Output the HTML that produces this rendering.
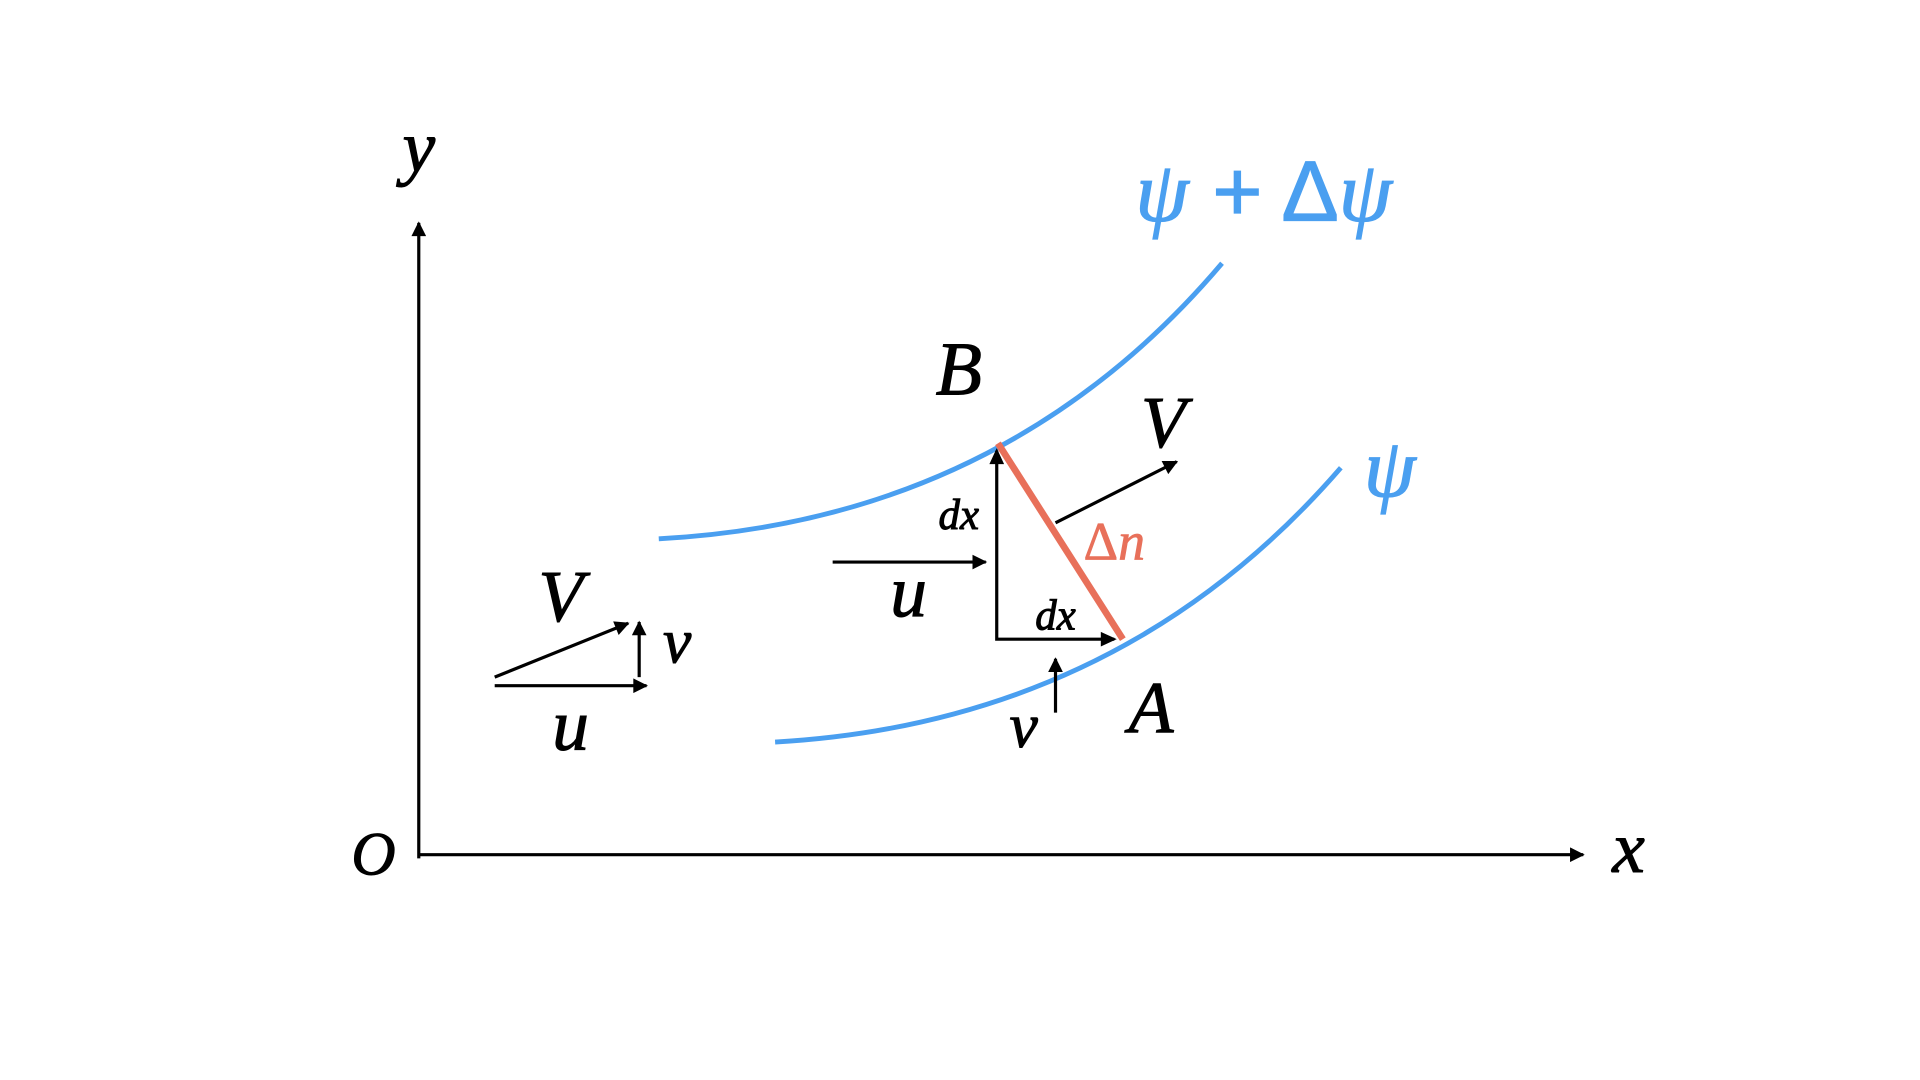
<!DOCTYPE html>
<html><head><meta charset="utf-8"><style>html,body{margin:0;padding:0;background:#fff;width:1920px;height:1080px;overflow:hidden}</style></head>
<body>
<svg width="1920" height="1080" viewBox="0 0 1568 882" xmlns="http://www.w3.org/2000/svg">
<defs>
<marker id="ah2" viewBox="0 0 10 10" refX="9" refY="5" markerWidth="14" markerHeight="12" orient="auto" markerUnits="userSpaceOnUse"><path d="M0,0 L10,5 L0,10 z" fill="#000"/></marker>
</defs>
<g stroke="#000" stroke-width="2.6" fill="none">
<line x1="342" y1="701" x2="342" y2="182" marker-end="url(#ah2)"/>
<line x1="341" y1="698" x2="1293" y2="698" marker-end="url(#ah2)"/>
</g>
<g stroke="#4a9ff0" stroke-width="4" fill="none">
<path d="M538,440 Q820,425 998,215"/>
<path d="M633,606 Q915,590 1095,382"/>
</g>
<line x1="815" y1="362" x2="917" y2="522" stroke="#e8705a" stroke-width="5.5"/>
<g stroke="#000" stroke-width="2.6" fill="none">
<polyline points="910,522 814,522 814,368" />
<line x1="680" y1="459" x2="805" y2="459" marker-end="url(#ah2)"/>
<line x1="862" y1="427" x2="961" y2="377" marker-end="url(#ah2)"/>
<line x1="862" y1="582" x2="862" y2="538" marker-end="url(#ah2)"/>
<line x1="404" y1="553" x2="513" y2="509" marker-end="url(#ah2)"/>
<line x1="404" y1="560" x2="528" y2="560" marker-end="url(#ah2)"/>
<line x1="522" y1="553" x2="522" y2="508" marker-end="url(#ah2)"/>
</g>
<path d="M814,366 l-6,13 h12 z M912,522 l-13,-6 v12 z" fill="#000"/>
<g font-family="Liberation Serif, serif" font-style="italic" fill="#000" text-anchor="middle" stroke="#000" stroke-width="0.8">
<text x="342" y="140" font-size="60">y</text>
<text x="1330" y="712" font-size="60">x</text>
<text x="305" y="714" font-size="50">O</text>
<text x="783" y="322" font-size="62">B</text>
<text x="940" y="598" font-size="60">A</text>
<text x="950" y="365" font-size="60">V</text>
<text x="458" y="507" font-size="60">V</text>
<text x="742" y="503" font-size="60">u</text>
<text x="466" y="612" font-size="60">u</text>
<text x="553" y="541" font-size="52">v</text>
<text x="836" y="610" font-size="52">v</text>
<text x="783" y="432" font-size="35">dx</text>
<text x="862" y="514" font-size="35">dx</text>
</g>
<text x="910" y="457" font-family="Liberation Serif, serif" font-size="44" fill="#e8705a" stroke="#e8705a" stroke-width="0.6" text-anchor="middle"><tspan font-style="normal">Δ</tspan><tspan font-style="italic">n</tspan></text>
<text x="1032" y="180" font-family="Liberation Serif, serif" font-size="70" fill="#4a9ff0" stroke="#4a9ff0" stroke-width="1" text-anchor="middle"><tspan font-style="italic">ψ</tspan><tspan font-family="Liberation Sans, sans-serif"> + Δ</tspan><tspan font-style="italic">ψ</tspan></text>
<text x="1135" y="405" font-family="Liberation Serif, serif" font-style="italic" font-size="68" fill="#4a9ff0" stroke="#4a9ff0" stroke-width="1" text-anchor="middle">ψ</text>
</svg>
</body></html>
